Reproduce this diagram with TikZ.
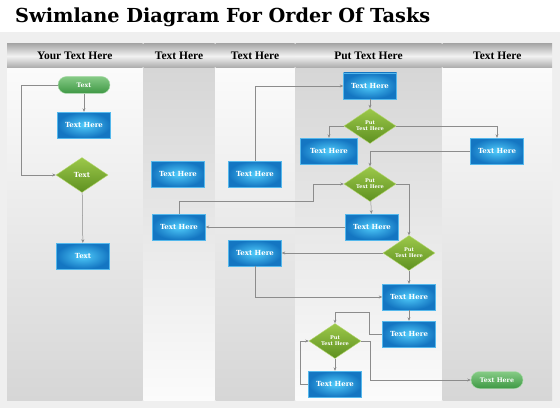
\documentclass[tikz,border=0pt]{standalone}
\usepackage{fontspec}
\usepackage{tikz}
\usetikzlibrary{shapes.geometric,arrows.meta}

\newfontfamily\slabfont{DejaVu Serif}
\newfontfamily\headfont{Liberation Serif}

\definecolor{bandgray}{HTML}{EFEFEF}
\definecolor{lanegray}{HTML}{D6D6D6}
\definecolor{lanewhite}{HTML}{FBFBFB}
\definecolor{headedge}{HTML}{A9A9A9}
\definecolor{headmid}{HTML}{F2F2F2}
\definecolor{boxlight}{HTML}{4FCBFA}
\definecolor{boxdark}{HTML}{1476C2}
\definecolor{boxedge}{HTML}{55B8EC}
\definecolor{dialight}{HTML}{9CC84A}
\definecolor{diadark}{HTML}{5E9020}
\definecolor{diaedge}{HTML}{B5D86E}
\definecolor{termlight}{HTML}{86CB86}
\definecolor{termdark}{HTML}{3E9844}
\definecolor{linegray}{HTML}{8C8C8C}

\tikzset{
    lanehead/.style={rectangle, minimum height=24pt, inner sep=0pt,
        top color=headedge, bottom color=headedge, middle color=headmid,
        font=\headfont\bfseries\fontsize{11.5}{13}\selectfont},
    box/.style={rectangle, minimum width=53pt, minimum height=26pt, inner sep=1pt,
        inner color=boxlight, outer color=boxdark, draw=boxedge, line width=0.4pt,
        text=white, font=\slabfont\bfseries\fontsize{7}{8}\selectfont},
    dia/.style={diamond, aspect=1.5, minimum width=52pt, minimum height=35pt, inner sep=0pt,
        top color=dialight, bottom color=diadark, draw=diaedge, line width=0.4pt,
        text=white, align=center, font=\slabfont\bfseries\fontsize{5.1}{6}\selectfont},
    term/.style={rectangle, rounded corners=8.5pt, minimum width=52pt, minimum height=17pt,
        inner sep=1pt, top color=termlight, bottom color=termdark, draw=termlight!70!white,
        line width=0.4pt, text=white, font=\slabfont\bfseries\fontsize{6.3}{7}\selectfont},
    flow/.style={draw=linegray, line width=0.5pt, -{Stealth[length=3.5pt,width=3pt]}},
}

\begin{document}
\begin{tikzpicture}[x=1pt,y=-1pt]
    \useasboundingbox (0,0) rectangle (560,420);
    % Draw background
    \fill[white] (0,0) rectangle (560,420);
    \fill[bandgray] (0,32) rectangle (560,408);

    % Title
    \node[anchor=west, inner sep=0pt, font=\slabfont\bfseries\fontsize{19.3}{22}\selectfont] (title) at (15,17) {Swimlane Diagram For Order Of Tasks};

    % Draw lanes
    \shade[top color=lanewhite, bottom color=lanegray] (7,68) rectangle (142.5,400);
    \shade[top color=lanegray, bottom color=lanewhite] (143.5,68) rectangle (214.5,400);
    \shade[top color=lanewhite, bottom color=lanegray] (215.5,68) rectangle (294.5,400);
    \shade[top color=lanegray, bottom color=lanewhite] (295.5,68) rectangle (441.5,400);
    \shade[top color=lanewhite, bottom color=lanegray] (442.5,68) rectangle (552,400);

    % Lane headers
    \node[lanehead, minimum width=135.5pt] (head1) at (74.75,56) {Your Text Here};
    \node[lanehead, minimum width=71pt] (head2) at (179,56) {Text Here};
    \node[lanehead, minimum width=79pt] (head3) at (255,56) {Text Here};
    \node[lanehead, minimum width=146pt] (head4) at (368.5,56) {Put Text Here};
    \node[lanehead, minimum width=109.5pt] (head5) at (497.25,56) {Text Here};

    % First lane
    \node[term] (start) at (84,85) {Text};
    \node[box] (b1) at (84,125) {Text Here};
    \node[dia, font=\slabfont\bfseries\fontsize{7}{8}\selectfont] (d0) at (82,175) {Text};
    \node[box] (t1) at (83,256) {Text};

    % Second and third lanes
    \node[box] (a1) at (178,174) {Text Here};
    \node[box] (b2) at (179,227) {Text Here};
    \node[box] (c1) at (255,174) {Text Here};
    \node[box] (c2) at (255,253) {Text Here};

    % Fourth and fifth lanes
    \node[box] (top1) at (370,86) {Text Here};
    \node[dia] (d1) at (370,126) {Put\\Text Here};
    \node[box, minimum width=57pt] (e1) at (329,151) {Text Here};
    \node[box] (f1) at (497,151) {Text Here};
    \node[dia] (d2) at (370,184) {Put\\Text Here};
    \node[box] (g1) at (372,227) {Text Here};
    \node[dia] (d3) at (409,253) {Put\\Text Here};
    \node[box] (h1) at (409,297) {Text Here};
    \node[box] (i1) at (409,334) {Text Here};
    \node[dia] (d4) at (335,341) {Put\\Text Here};
    \node[box] (j1) at (335,384) {Text Here};
    \node[term] (finish) at (497,380) {Text Here};

    % Connectors
    \draw[flow] (start) -- (b1);
    \draw[flow] (start.west) -- ++(-37,0) |- (d0.west);
    \draw[flow] (d0) -- (t1);
    \draw[flow] (c1.north) |- (top1.west);
    \draw[flow] (top1) -- (d1);
    \draw[flow] (d1.west) -| (e1.north);
    \draw[flow] (d1.east) -| (f1.north);
    \draw[flow] (f1.west) -| (d2.north);
    \draw[flow] (b2.north) -- ++(0,-13) -| ([xshift=-31pt]d2.west) -- (d2.west);
    \draw[flow] (d2) -- (g1);
    \draw[flow] (g1.west) -- (b2.east);
    \draw[flow] (d2.east) -| (d3.north);
    \draw[flow] (d3.west) -- (c2.east);
    \draw[flow] (d3) -- (h1);
    \draw[flow] (c2.south) |- (h1.west);
    \draw[flow] (h1) -- (i1);
    \draw[flow] (i1.west) -- ++(-13,0) |- ([yshift=11pt]d4.north) -- (d4.north);
    \draw[flow] (d4) -- (j1);
    \draw[flow] (j1.west) -- ++(-8,0) |- (d4.west);
    \draw[flow] (d4.east) -- ++(9,0) |- (finish.west);
\end{tikzpicture}
\end{document}
